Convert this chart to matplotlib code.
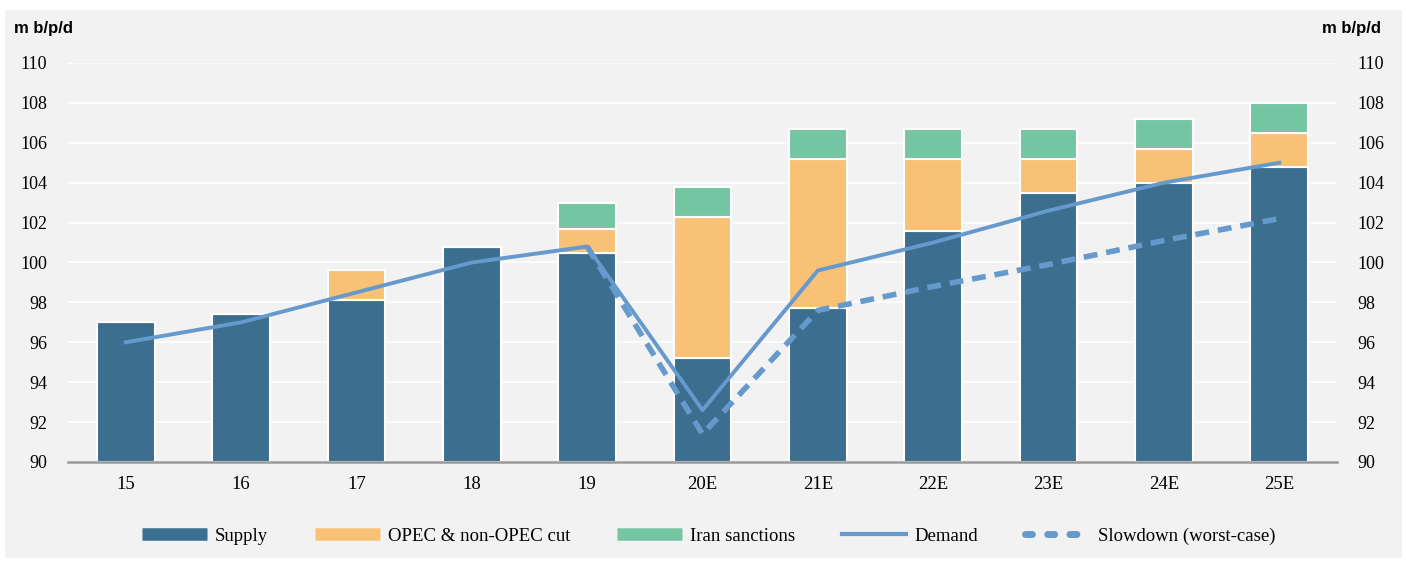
import matplotlib.pyplot as plt
import matplotlib.patches as mpatches
from matplotlib.lines import Line2D
import numpy as np

years = ['15', '16', '17', '18', '19', '20E', '21E', '22E', '23E', '24E', '25E']
supply = [97.0, 97.4, 98.1, 100.8, 100.5, 95.2, 97.7, 101.6, 103.5, 104.0, 104.8]
opec_cut = [0, 0, 1.5, 0, 1.2, 7.1, 7.5, 3.6, 1.7, 1.7, 1.7]
iran = [0, 0, 0, 0, 1.3, 1.5, 1.5, 1.5, 1.5, 1.5, 1.5]
demand = [96.0, 97.0, 98.5, 100.0, 100.8, 92.6, 99.6, 101.0, 102.6, 104.0, 105.0]
slow_years = ['19', '20E', '21E', '22E', '23E', '24E', '25E']
slowdown = [100.8, 91.4, 97.6, 98.8, 99.9, 101.1, 102.2]

c_supply = '#3c6e8f'
c_opec = '#f9c175'
c_iran = '#74c6a2'
c_line = '#6699cc'
bg = '#f2f2f2'
serif = ['Liberation Serif', 'DejaVu Serif']

fig = plt.figure(figsize=(14.06, 5.63), dpi=100)
fig.patch.set_facecolor('white')
fig.patches.append(mpatches.Rectangle((5 / 1406, 5 / 563), 1397 / 1406, 548 / 563,
                                      transform=fig.transFigure, facecolor=bg,
                                      edgecolor='none', zorder=-10))

ax = fig.add_axes([68 / 1406, 1 - 462 / 563, 1269 / 1406, 399 / 563])
ax.set_facecolor(bg)
x = np.arange(len(years))
base = 90
s = np.array(supply) - base
o = np.array(opec_cut)
r = np.array(iran)
ax.bar(x, s, 0.5, bottom=base, color=c_supply, edgecolor='white', linewidth=1.5, zorder=3)
ax.bar(x, o, 0.5, bottom=base + s, color=c_opec, edgecolor='white', linewidth=1.5, zorder=3)
ax.bar(x, r, 0.5, bottom=base + s + o, color=c_iran, edgecolor='white', linewidth=1.5, zorder=3)

ax.plot(x, demand, color=c_line, lw=2.8, zorder=5)
xs = [years.index(y) for y in slow_years]
ax.plot(xs, slowdown, color=c_line, lw=4, ls=(0, (2.5, 1.6)), zorder=4)

ax.set_xlim(-0.5, len(years) - 0.5)
ax.set_ylim(90, 110)
ax.set_yticks(range(90, 111, 2))
ax.grid(axis='y', color='white', lw=1.2, zorder=0)
for sp in ['top', 'left', 'right']:
    ax.spines[sp].set_visible(False)
ax.spines['bottom'].set_color('#999999')
ax.spines['bottom'].set_linewidth(1.8)
ax.spines['bottom'].set_zorder(6)
ax.set_xticks(x)
ax.set_xticklabels(years, fontfamily=serif, fontsize=13.5)
ax.tick_params(axis='x', length=0, pad=10)
ax.tick_params(axis='y', length=0, pad=15)
for t in ax.get_yticklabels():
    t.set_fontfamily(serif)
    t.set_fontsize(13)

ax2 = ax.twinx()
ax2.set_ylim(90, 110)
ax2.set_yticks(range(90, 111, 2))
for sp in ax2.spines.values():
    sp.set_visible(False)
ax2.tick_params(axis='y', length=0, pad=15)
for t in ax2.get_yticklabels():
    t.set_fontfamily(serif)
    t.set_fontsize(13)

fig.text(14 / 1406, 1 - 29 / 563, 'm b/p/d', fontfamily='Liberation Sans', fontweight='bold',
         fontsize=12, va='center', ha='left')
fig.text(1381 / 1406, 1 - 29 / 563, 'm b/p/d', fontfamily='Liberation Sans', fontweight='bold',
         fontsize=12, va='center', ha='right')

handles = [
    Line2D([0], [0], color=c_supply, lw=9, solid_capstyle='butt'),
    Line2D([0], [0], color=c_opec, lw=9, solid_capstyle='butt'),
    Line2D([0], [0], color=c_iran, lw=9, solid_capstyle='butt'),
    Line2D([0], [0], color=c_line, lw=3),
    Line2D([0], [0], color=c_line, lw=5, ls=(0, (1.0, 2.2)), dash_capstyle='round'),
]
labels = ['Supply', 'OPEC & non-OPEC cut', 'Iran sanctions', 'Demand', 'Slowdown (worst-case)']
fig.legend(handles, labels, loc='center', bbox_to_anchor=(0.504, 1 - 536 / 563), ncol=5,
           frameon=False, prop={'family': serif, 'size': 13.5}, handlelength=3.45,
           handletextpad=0.43, columnspacing=2.5)

fig.savefig('out.png', dpi=100, facecolor='white')
